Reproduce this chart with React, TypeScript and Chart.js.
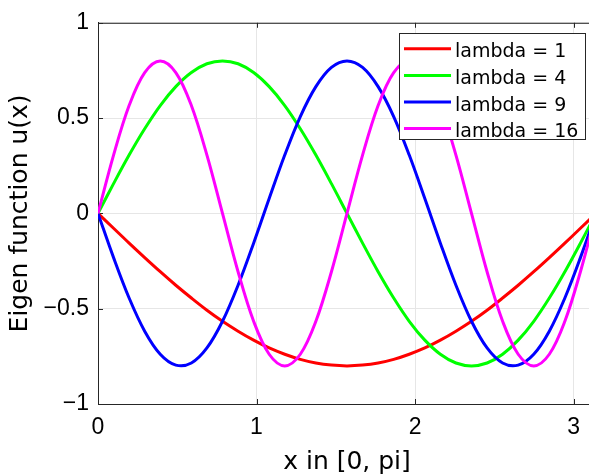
import { useEffect, useRef } from 'react';
import { Chart, registerables } from 'chart.js';

Chart.register(...registerables);

// x in [0, pi]
const xValues = [
  0, 0.0982, 0.1963, 0.2945, 0.3927, 0.4909, 0.589, 0.6872, 0.7854, 0.8836, 0.9817,
  1.0799, 1.1781, 1.2763, 1.3744, 1.4726, 1.5708, 1.669, 1.7671, 1.8653, 1.9635,
  2.0617, 2.1598, 2.258, 2.3562, 2.4544, 2.5525, 2.6507, 2.7489, 2.8471, 2.9452,
  3.0434, 3.1416,
];

const lambda1 = [
  0, -0.078, -0.156, -0.232, -0.306, -0.377, -0.444, -0.508, -0.566, -0.618, -0.665,
  -0.706, -0.739, -0.766, -0.785, -0.796, -0.8, -0.796, -0.785, -0.766, -0.739,
  -0.706, -0.665, -0.618, -0.566, -0.508, -0.444, -0.377, -0.306, -0.232, -0.156,
  -0.078, 0,
];

const lambda4 = [
  0, 0.156, 0.306, 0.444, 0.566, 0.665, 0.739, 0.785, 0.8, 0.785, 0.739, 0.665,
  0.566, 0.444, 0.306, 0.156, 0, -0.156, -0.306, -0.444, -0.566, -0.665, -0.739,
  -0.785, -0.8, -0.785, -0.739, -0.665, -0.566, -0.444, -0.306, -0.156, 0,
];

const lambda9 = [
  0, -0.232, -0.444, -0.618, -0.739, -0.796, -0.785, -0.706, -0.566, -0.377, -0.156,
  0.078, 0.306, 0.508, 0.665, 0.766, 0.8, 0.766, 0.665, 0.508, 0.306, 0.078, -0.156,
  -0.377, -0.566, -0.706, -0.785, -0.796, -0.739, -0.618, -0.444, -0.232, 0,
];

const lambda16 = [
  0, 0.306, 0.566, 0.739, 0.8, 0.739, 0.566, 0.306, 0, -0.306, -0.566, -0.739, -0.8,
  -0.739, -0.566, -0.306, 0, 0.306, 0.566, 0.739, 0.8, 0.739, 0.566, 0.306, 0,
  -0.306, -0.566, -0.739, -0.8, -0.739, -0.566, -0.306, 0,
];

const seriesLabels = ['lambda = 1', 'lambda = 4', 'lambda = 9', 'lambda = 16'];
const seriesValues = [lambda1, lambda4, lambda9, lambda16];
const seriesColors = ['#ff0000', '#00ff00', '#0000ff', '#ff00ff'];

const xTickValues = [0, 1, 2, 3];
const yTickValues = [-1, -0.5, 0, 0.5, 1];

const TICK_FONT = "'Liberation Sans', Arial, sans-serif";
const TEXT_FONT = "'DejaVu Sans', sans-serif";
const AXIS = '#262626';

const fmt = (v: number) => (v < 0 ? '\u2212' + String(-v) : String(v));

const framePlugin = {
  id: 'frame',
  beforeDatasetsDraw(chart: any) {
    const { ctx, chartArea } = chart;
    const { left, right, top, bottom } = chartArea;
    const xs = chart.scales.x;
    const ys = chart.scales.y;
    ctx.save();
    ctx.strokeStyle = AXIS;
    ctx.lineWidth = 1;
    ctx.beginPath();
    ctx.moveTo(left, top + 0.5);
    ctx.lineTo(right, top + 0.5);
    ctx.moveTo(right - 0.5, top);
    ctx.lineTo(right - 0.5, bottom);
    xTickValues.forEach((v) => {
      const px = Math.round(xs.getPixelForValue(v)) + 0.5;
      ctx.moveTo(px, bottom);
      ctx.lineTo(px, bottom - 5);
      ctx.moveTo(px, top);
      ctx.lineTo(px, top + 5);
    });
    yTickValues.forEach((v) => {
      const py = Math.round(ys.getPixelForValue(v)) + 0.5;
      ctx.moveTo(left, py);
      ctx.lineTo(left + 5, py);
      ctx.moveTo(right, py);
      ctx.lineTo(right - 5, py);
    });
    ctx.stroke();
    ctx.restore();
  },
};

const legendPlugin = {
  id: 'boxLegend',
  afterDraw(chart: any) {
    const ctx = chart.ctx;
    const x0 = 399.5;
    const y0 = 33.5;
    const w = 186;
    const h = 106;
    ctx.save();
    ctx.fillStyle = '#ffffff';
    ctx.fillRect(x0, y0, w, h);
    ctx.strokeStyle = AXIS;
    ctx.lineWidth = 1;
    ctx.strokeRect(x0, y0, w, h);
    ctx.font = `19px ${TEXT_FONT}`;
    ctx.textBaseline = 'alphabetic';
    ctx.textAlign = 'left';
    chart.data.datasets.forEach((ds: any, i: number) => {
      const cy = 48.8 + i * 26.6;
      ctx.strokeStyle = ds.borderColor;
      ctx.lineWidth = 3;
      ctx.beginPath();
      ctx.moveTo(404, cy);
      ctx.lineTo(451, cy);
      ctx.stroke();
      ctx.fillStyle = '#000000';
      ctx.fillText(ds.label, 455, cy + 8.5);
    });
    ctx.restore();
  },
};

export default function App() {
  const canvasRef = useRef<HTMLCanvasElement | null>(null);

  useEffect(() => {
    if (!canvasRef.current) return;
    const datasets = seriesLabels.map((label, i) => ({
      label,
      data: xValues.map((x, j) => ({ x, y: seriesValues[i][j] })),
      borderColor: seriesColors[i],
      backgroundColor: seriesColors[i],
      borderWidth: 3,
      pointRadius: 0,
      tension: 0.35,
      fill: false,
      order: seriesLabels.length - i,
    }));

    const chart = new Chart(canvasRef.current, {
      type: 'line',
      data: { datasets },
      plugins: [framePlugin, legendPlugin],
      options: {
        animation: false,
        responsive: false,
        maintainAspectRatio: false,
        layout: { padding: { top: 21, right: 4, left: 0, bottom: 0 } },
        plugins: {
          legend: { display: false },
          tooltip: { enabled: false },
        },
        scales: {
          x: {
            type: 'linear',
            min: 0,
            max: 3.1416,
            afterFit: (s: any) => {
              s.height = 71;
            },
            afterBuildTicks: (s: any) => {
              s.ticks = xTickValues.map((v) => ({ value: v }));
            },
            ticks: {
              includeBounds: false,
              stepSize: 1,
              padding: 10,
              color: '#000000',
              font: { family: TICK_FONT, size: 23 },
              callback: (v: any) => fmt(Number(v)),
              maxRotation: 0,
            },
            grid: { color: '#e6e6e6', lineWidth: 1, drawTicks: false },
            border: { display: true, color: AXIS, width: 1 },
            title: {
              display: true,
              text: 'x in [0, pi]',
              color: '#000000',
              font: { family: TEXT_FONT, size: 25, lineHeight: 1 },
              padding: { top: 0, bottom: 0 },
            },
          },
          y: {
            type: 'linear',
            min: -1,
            max: 1,
            afterFit: (s: any) => {
              s.width = 98;
            },
            afterBuildTicks: (s: any) => {
              s.ticks = yTickValues.map((v) => ({ value: v }));
            },
            ticks: {
              stepSize: 0.5,
              padding: 9,
              color: '#000000',
              font: { family: TICK_FONT, size: 23 },
              callback: (v: any) => fmt(Number(v)),
            },
            grid: { color: '#e6e6e6', lineWidth: 1, drawTicks: false },
            border: { display: true, color: AXIS, width: 1 },
            title: {
              display: true,
              text: 'Eigen function u(x)',
              color: '#000000',
              font: { family: TEXT_FONT, size: 25, lineHeight: 1 },
              padding: { top: 8, bottom: 0 },
            },
          },
        },
      },
    });
    return () => chart.destroy();
  }, []);

  return (
    <div
      style={{
        position: 'fixed',
        left: 0,
        top: 0,
        width: 589,
        height: 475,
        overflow: 'hidden',
        background: '#ffffff',
      }}
    >
      <canvas ref={canvasRef} width={600} height={475} style={{ display: 'block' }} />
    </div>
  );
}
